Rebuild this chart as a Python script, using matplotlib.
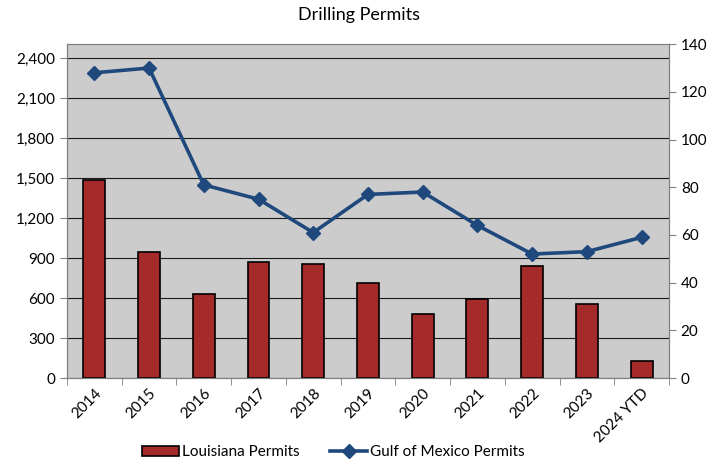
import matplotlib
matplotlib.use("Agg")
import matplotlib.pyplot as plt
import numpy as np
from matplotlib.ticker import FuncFormatter

plt.rcParams['font.family'] = ['Lato', 'DejaVu Sans']

categories = ["2014", "2015", "2016", "2017", "2018", "2019", "2020", "2021", "2022", "2023", "2024 YTD"]
louisiana = [1485, 945, 630, 870, 855, 712, 480, 592, 840, 555, 127]
gulf = [128, 130, 81, 75, 61, 77, 78, 64, 52, 53, 59]

fig = plt.figure(figsize=(7.17, 4.65), dpi=100)
ax = fig.add_axes([0.0934, 0.187, 0.8396, 0.718])
ax.set_facecolor('#CCCCCC')
x = np.arange(len(categories))
ax.bar(x, louisiana, width=0.4, color='#A52A2A', edgecolor='black', linewidth=1.2,
       label='Louisiana Permits', zorder=3)
ax.set_ylim(0, 2505)
ax.set_yticks(np.arange(0, 2401, 300))
ax.yaxis.set_major_formatter(FuncFormatter(lambda v, p: f"{int(v):,}"))
ax.grid(axis='y', color='#1a1a1a', linewidth=0.8, zorder=0)
ax.set_axisbelow(True)
ax.set_xlim(-0.5, len(categories) - 0.5)
ax.set_xticks(x)
ax.set_xticklabels(categories, rotation=45, ha='right', rotation_mode='anchor', fontsize=11)
ax.tick_params(axis='x', length=0, pad=6)
ax.set_xticks(np.arange(-0.5, len(categories), 1), minor=True)
ax.tick_params(axis='x', which='minor', length=5, color='#808080')
ax.tick_params(axis='y', labelsize=11, color='#808080', length=5)
for s in ax.spines.values():
    s.set_color('#808080')

ax2 = ax.twinx()
ax2.plot(x, gulf, color='#1F497D', linewidth=2.6, marker='D', markersize=7,
         label='Gulf of Mexico Permits', zorder=4)
ax2.set_ylim(0, 140)
ax2.set_yticks(np.arange(0, 141, 20))
ax2.tick_params(axis='y', labelsize=11, color='#808080', length=5)
for s in ax2.spines.values():
    s.set_color('#808080')

fig.text(0.5, 0.967, "Drilling Permits", ha='center', va='center', fontsize=13)

h1, l1 = ax.get_legend_handles_labels()
h2, l2 = ax2.get_legend_handles_labels()
fig.legend(h1 + h2, l1 + l2, loc='center', bbox_to_anchor=(0.465, 0.027), ncol=2,
           frameon=False, fontsize=11, handlelength=2.4, handletextpad=0.2, columnspacing=2.0)

fig.savefig("out.png", dpi=100)
